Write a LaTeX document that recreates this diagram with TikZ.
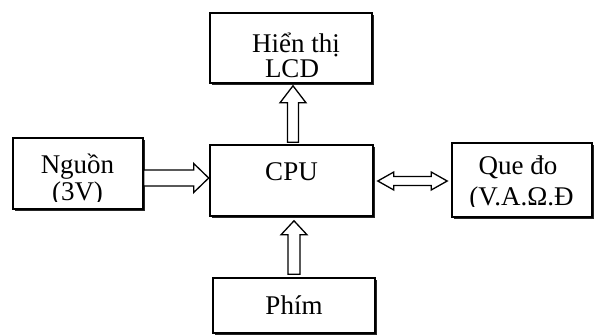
\documentclass[tikz,border=0pt]{standalone}
\usepackage{fontspec}
\setmainfont{Liberation Serif}
\usetikzlibrary{calc,shadows}
\newcommand\myUpArrow[5]{% tip, base, shaft half, head half, head length
  \draw[fatarrow] ($(#2)+(-#3,0)$) -- ($(#1)+(-#3,#5)$) -- ($(#1)+(-#4,#5)$) -- (#1)
    -- ($(#1)+(#4,#5)$) -- ($(#1)+(#3,#5)$) -- ($(#2)+(#3,0)$) -- cycle;}
\begin{document}
\begin{tikzpicture}[x=1pt,y=-1pt,
  blk/.style={draw,line width=1.6pt,fill=white,inner sep=0pt,
    drop shadow={shadow xshift=2.4pt,shadow yshift=-2.4pt,fill=black,opacity=0.85}},
  txt/.style={font=\fontsize{27}{30}\selectfont,inner sep=0pt,anchor=base},
  fatarrow/.style={draw,fill=white,line width=1.3pt,line join=miter}]
\useasboundingbox (0,0) rectangle (597,335);
% boxes
\node[blk,minimum width=162pt,minimum height=70pt] (lcd) at (291,48) {};
\node[blk,minimum width=163pt,minimum height=71pt] (cpu) at (291.5,180.5) {};
\node[blk,minimum width=162pt,minimum height=55pt] (phim) at (294,305.5) {};
\node[blk,minimum width=130pt,minimum height=71pt] (nguon) at (78,173.5) {};
\node[blk,minimum width=140pt,minimum height=74pt] (que) at (522,180) {};
% texts
\node[txt] (t1) at (296,52) {Hiển thị};
\node[txt] (t2) at (292,77) {LCD};
\node[txt] (t3) at (291.5,180) {CPU};
\node[txt] (t4) at (294,314) {Phím};
\node[txt] (t5) at (77.5,173) {Nguồn};
\begin{scope}
  \clip ($(nguon.south west)+(0,-8)$) rectangle (nguon.north east);
  \node[txt] (t6) at (77.5,200.5) {(3V)};
\end{scope}
\node[txt] (t7) at (518,174) {Que đo};
\begin{scope}
  \clip ($(que.south west)+(0,-11.5)$) rectangle (que.north east);
  \node[txt] (t8) at (521.5,205.5) {(V.A.Ω.Đ};
\end{scope}
% arrows
\coordinate (tipA) at ($(lcd.south)+(2,2)$);
\coordinate (baseA) at ($(tipA |- cpu.north)+(0,-2)$);
\myUpArrow{tipA}{baseA}{5.5}{13}{17}
\coordinate (tipB) at ($(cpu.south)+(2.5,4)$);
\coordinate (baseB) at ($(tipB |- phim.north)+(0,-3)$);
\myUpArrow{tipB}{baseB}{6}{13}{14}
% right arrow from nguon to cpu
\coordinate (tipC) at ($(cpu.west)+(-0.5,-2.5)$);
\coordinate (baseC) at (nguon.east |- tipC);
\draw[fatarrow] ($(baseC)+(0,-8)$) -- ($(tipC)+(-15,-8)$) -- ($(tipC)+(-15,-14.5)$) -- (tipC)
  -- ($(tipC)+(-15,14.5)$) -- ($(tipC)+(-15,8)$) -- ($(baseC)+(0,8)$) -- cycle;
% double arrow between cpu and que
\coordinate (tipL) at ($(cpu.east)+(4,0.5)$);
\coordinate (tipR) at ($(que.west |- tipL)+(-4,0)$);
\draw[fatarrow] (tipL) -- ($(tipL)+(16,-9)$) -- ($(tipL)+(16,-4.5)$) -- ($(tipR)+(-16,-4.5)$)
  -- ($(tipR)+(-16,-9)$) -- (tipR) -- ($(tipR)+(-16,9)$) -- ($(tipR)+(-16,4.5)$)
  -- ($(tipL)+(16,4.5)$) -- ($(tipL)+(16,9)$) -- cycle;
\end{tikzpicture}
\end{document}
